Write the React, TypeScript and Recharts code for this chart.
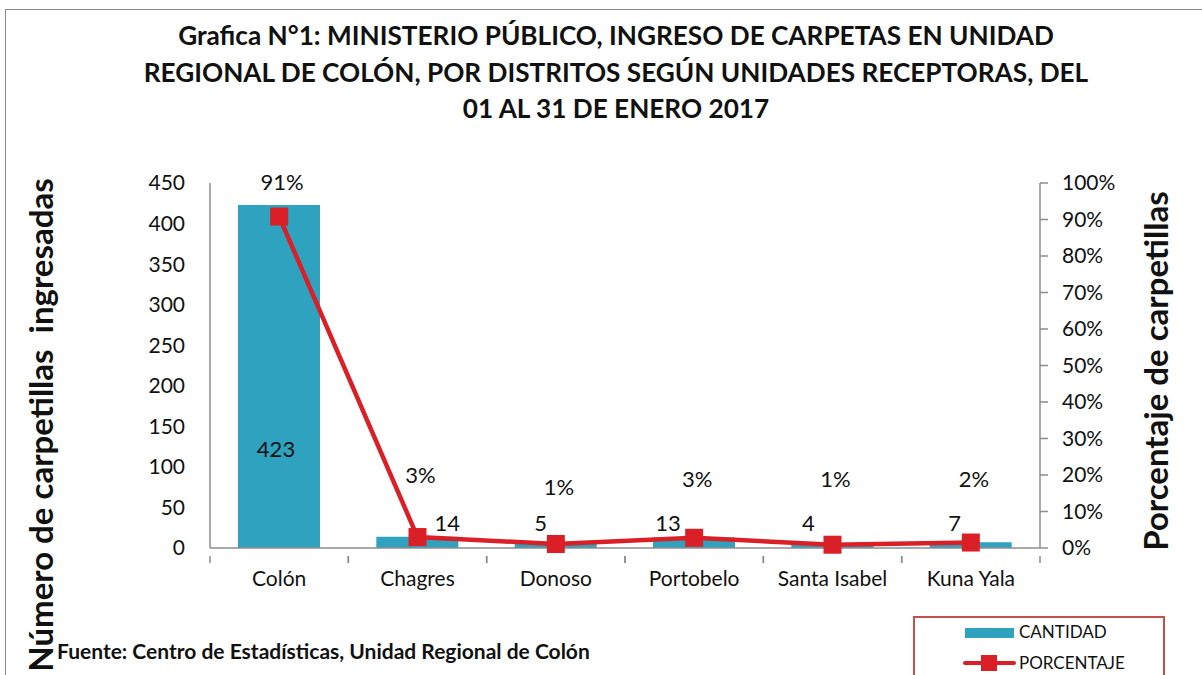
import React from 'react';
import {
  ComposedChart,
  Bar,
  Line,
  XAxis,
  YAxis,
  Legend,
  LabelList,
} from 'recharts';

const categories = ['Colón', 'Chagres', 'Donoso', 'Portobelo', 'Santa Isabel', 'Kuna Yala'];
const cantidad = [423, 14, 5, 13, 4, 7];
const porcentaje = [0.908, 0.03, 0.011, 0.028, 0.009, 0.015];
const countTicks = [0, 50, 100, 150, 200, 250, 300, 350, 400, 450];
const pctTicks = [0, 0.1, 0.2, 0.3, 0.4, 0.5, 0.6, 0.7, 0.8, 0.9, 1];

const data = categories.map((name, i) => ({
  name,
  cantidad: cantidad[i],
  porcentaje: porcentaje[i],
}));

const FONT = 'Lato, "Open Sans", sans-serif';
const BLUE = '#2EA2BF';
const RED = '#DA1F26';
const AXIS = '#8C8C8C';

// label nudges (Excel had them hand placed)
const countLabelDx = [-3, 30, -15, -26, -24, -16];
const pctLabelY = [181, 474, 486, 478, 478, 478];

const CategoryTick = (props: any) => {
  const { x, y, payload } = props;
  const band = 830 / 6;
  return (
    <g>
      <line x1={x - band / 2} y1={y} x2={x - band / 2} y2={y + 7} stroke={AXIS} strokeWidth={1.5} />
      <line x1={x + band / 2} y1={y} x2={x + band / 2} y2={y + 7} stroke={AXIS} strokeWidth={1.5} />
      <text x={x} y={y + 30} textAnchor="middle" fontSize={21} fill="#111" fontFamily={FONT}>
        {payload.value}
      </text>
    </g>
  );
};

const SquareDot = (props: any) => {
  const { cx, cy } = props;
  if (cx == null || cy == null) return null;
  return <rect x={cx - 9} y={cy - 9} width={18} height={18} fill={RED} />;
};

const CountLabel = (props: any) => {
  const { x, y, width, height, value, index } = props;
  const cx = x + width / 2 + countLabelDx[index];
  const cy = index === 0 ? y + height * 0.71 : 522;
  return (
    <text x={cx} y={cy} textAnchor="middle" dominantBaseline="central" fontSize={22} fill="#111" fontFamily={FONT}>
      {value}
    </text>
  );
};

const PctLabel = (props: any) => {
  const { x, value, index } = props;
  return (
    <text x={x + 3} y={pctLabelY[index]} textAnchor="middle" dominantBaseline="central" fontSize={22} fill="#111" fontFamily={FONT}>
      {Math.round(value * 100)}%
    </text>
  );
};

const LegendBox = () => (
  <div
    style={{
      width: 252,
      height: 70,
      border: '2px solid #C0504D',
      boxSizing: 'border-box',
      fontFamily: FONT,
      fontSize: 17,
      color: '#111',
      position: 'relative',
    }}
  >
    <div style={{ position: 'absolute', left: 50, top: 10, width: 49, height: 10, background: BLUE }} />
    <div style={{ position: 'absolute', left: 104, top: 4, lineHeight: '20px' }}>CANTIDAD</div>
    <div style={{ position: 'absolute', left: 48, top: 43, width: 53, height: 4, background: RED, borderRadius: 2 }} />
    <div style={{ position: 'absolute', left: 66, top: 37, width: 16, height: 16, background: RED }} />
    <div style={{ position: 'absolute', left: 104, top: 35, lineHeight: '20px' }}>PORCENTAJE</div>
  </div>
);

export default function App() {
  return (
    <div
      style={{
        position: 'fixed',
        left: 0,
        top: 0,
        width: 1202,
        height: 675,
        background: '#fff',
        overflow: 'hidden',
      }}
    >
      <div
        style={{
          position: 'absolute',
          left: 5,
          top: 9,
          width: 1200,
          height: 700,
          border: '1.5px solid #8A8A8A',
          boxSizing: 'border-box',
        }}
      />
      <div
        style={{
          position: 'absolute',
          left: 0,
          top: 17,
          width: 1232,
          textAlign: 'center',
          fontFamily: FONT,
          fontWeight: 700,
          fontSize: 26.2,
          lineHeight: '36.5px',
          color: '#111',
        }}
      >
        Grafica N°1: MINISTERIO PÚBLICO, INGRESO DE CARPETAS EN UNIDAD
        <br />
        REGIONAL DE COLÓN, POR DISTRITOS SEGÚN UNIDADES RECEPTORAS, DEL
        <br />
        01 AL 31 DE ENERO 2017
      </div>
      <ComposedChart
        width={1202}
        height={675}
        data={data}
        margin={{ top: 183, right: 72, bottom: 87, left: 150 }}
        style={{ position: 'absolute', left: 0, top: 0 }}
      >
        <XAxis
          dataKey="name"
          height={40}
          tick={<CategoryTick />}
          tickLine={false}
          axisLine={{ stroke: AXIS, strokeWidth: 1.5 }}
          interval={0}
        />
        <YAxis
          yAxisId="left"
          width={60}
          domain={[0, 450]}
          ticks={countTicks}
          interval={0}
          tickSize={6}
          tickMargin={19}
          axisLine={{ stroke: AXIS, strokeWidth: 1.5 }}
          tickLine={false}
          tick={{ fontSize: 21, fill: '#111', fontFamily: FONT }}
        />
        <YAxis
          yAxisId="right"
          orientation="right"
          width={90}
          domain={[0, 1]}
          ticks={pctTicks}
          interval={0}
          tickSize={8}
          tickMargin={14}
          tickFormatter={(v: number) => `${Math.round(v * 100)}%`}
          axisLine={{ stroke: AXIS, strokeWidth: 1.5 }}
          tickLine={{ stroke: AXIS, strokeWidth: 1.5 }}
          tick={{ fontSize: 21, fill: '#111', fontFamily: FONT }}
        />
        <Legend
          content={<LegendBox />}
          layout="horizontal"
          verticalAlign="middle"
          align="center"
          wrapperStyle={{ position: 'absolute', left: 913, top: 616, width: 252 }}
        />
        <Bar yAxisId="left" dataKey="cantidad" name="CANTIDAD" fill={BLUE} barSize={82} isAnimationActive={false}>
          <LabelList dataKey="cantidad" content={<CountLabel />} />
        </Bar>
        <Line
          yAxisId="right"
          dataKey="porcentaje"
          name="PORCENTAJE"
          stroke={RED}
          strokeWidth={4.5}
          dot={<SquareDot />}
          activeDot={false}
          isAnimationActive={false}
        >
          <LabelList dataKey="porcentaje" content={<PctLabel />} />
        </Line>
      </ComposedChart>
      <div
        style={{
          position: 'absolute',
          left: 40,
          top: 425,
          transform: 'translate(-50%, -50%) rotate(-90deg)',
          whiteSpace: 'pre',
          fontFamily: FONT,
          fontWeight: 700,
          fontSize: 33,
          color: '#111',
        }}
      >
        {'Número de carpetillas  ingresadas'}
      </div>
      <div
        style={{
          position: 'absolute',
          left: 1155,
          top: 371,
          transform: 'translate(-50%, -50%) rotate(-90deg)',
          whiteSpace: 'pre',
          fontFamily: FONT,
          fontWeight: 700,
          fontSize: 33,
          color: '#111',
        }}
      >
        Porcentaje de carpetillas
      </div>
      <div
        style={{
          position: 'absolute',
          left: 57,
          top: 640,
          fontFamily: FONT,
          fontWeight: 700,
          fontSize: 21,
          lineHeight: '22px',
          color: '#111',
        }}
      >
        Fuente: Centro de Estadísticas, Unidad Regional de Colón
      </div>
    </div>
  );
}
